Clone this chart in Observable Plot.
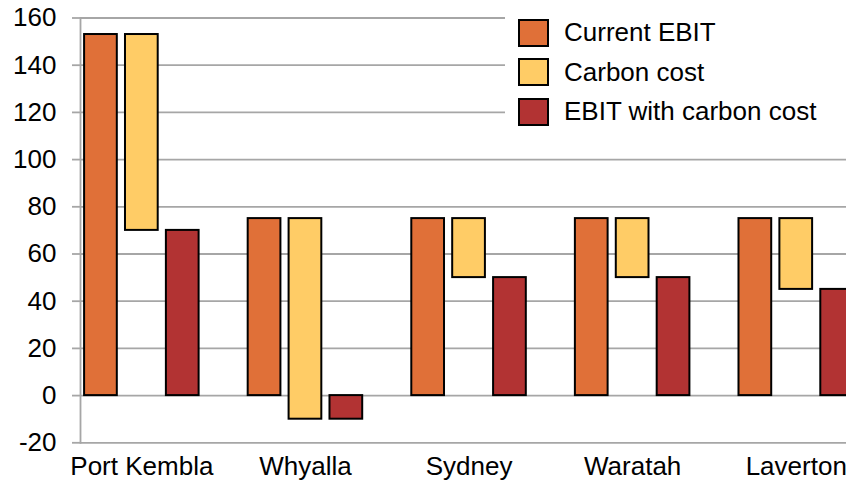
<!DOCTYPE html>
<html>
<head>
<meta charset="utf-8">
<script src="https://cdn.jsdelivr.net/npm/d3@7"></script>
<script src="https://cdn.jsdelivr.net/npm/@observablehq/plot@0.6"></script>
<style>
  html, body { margin: 0; padding: 0; background: #fff; overflow: hidden; }
  #wrap { position: relative; width: 846px; height: 481px; overflow: hidden; font-family: "Liberation Sans", Arial, sans-serif; }
  #chart svg { max-width: none !important; width: 898px; height: 481px; display: block; }
  #legend { position: absolute; left: 505px; top: 0; width: 400px; height: 132px; background: #fff; }
  .row { position: absolute; left: 13px; height: 28px; display: flex; align-items: center; }
  .sw { width: 27px; height: 24px; border: 2px solid #000; margin-right: 15px; }
  .lbl { font-size: 26px; color: #000; white-space: nowrap; }
</style>
</head>
<body>
<div id="wrap"><div id="chart"></div><div id="legend"></div></div>
<script>
const sites = ["Port Kembla", "Whyalla", "Sydney", "Waratah", "Laverton"];
const series = ["Current EBIT", "Carbon cost", "EBIT with carbon cost"];
const colors = ["#E07038", "#FFCC66", "#B23333"];
const currentEbit = [153, 75, 75, 75, 75];
const ebitWithCarbon = [70, -10, 50, 50, 45];
const yTicks = [-20, 0, 20, 40, 60, 80, 100, 120, 140, 160];

// Carbon cost bar spans from EBIT with carbon cost up to current EBIT
const rows = [];
sites.forEach((s, i) => {
  rows.push({site: s, series: series[0], y1: 0, y2: currentEbit[i]});
  rows.push({site: s, series: series[1], y1: ebitWithCarbon[i], y2: currentEbit[i]});
  rows.push({site: s, series: series[2], y1: 0, y2: ebitWithCarbon[i]});
});
const key = (s, k) => s + "|" + k;
const slots = ["0", "1", "2", "3"];
const domainX = sites.flatMap(s => slots.map(k => key(s, k)));
rows.forEach(r => r.key = key(r.site, String(series.indexOf(r.series))));

const chart = Plot.plot({
  width: 898,
  height: 481,
  marginLeft: 80,
  marginRight: 0,
  marginTop: 17.5,
  marginBottom: 38.7,
  style: {fontFamily: "'Liberation Sans', Arial, sans-serif", fontSize: "26px", color: "#000", background: "#fff", maxWidth: "none"},
  x: {type: "band", domain: domainX, paddingInner: 0.2, paddingOuter: 0.1, round: false},
  y: {domain: [-20, 160]},
  color: {domain: series, range: colors},
  marks: [
    Plot.gridY(yTicks, {stroke: "#a6a6a6", strokeOpacity: 1, strokeWidth: 1.8}),
    Plot.frame({anchor: "left", stroke: "#a6a6a6", strokeWidth: 1.8}),
    Plot.axisY(yTicks, {tickSize: 8, tickPadding: 16, stroke: "#a6a6a6", strokeWidth: 1.8, fill: "#000", fontSize: 26, label: null, tickFormat: d => String(d)}),
    Plot.axisX(sites.map(s => key(s, "1")), {tickSize: 0, tickPadding: 14, tickFormat: d => d.split("|")[0], fill: "#000", fontSize: 26, label: null}),
    Plot.barY(rows, {x: "key", y1: "y1", y2: "y2", fill: "series", stroke: "#000", strokeWidth: 2})
  ]
});
document.getElementById("chart").appendChild(chart);

const legend = document.getElementById("legend");
series.forEach((s, i) => {
  const row = document.createElement("div");
  row.className = "row";
  row.style.top = (18.5 + i * 39.5) + "px";
  row.innerHTML = `<div class="sw" style="background:${colors[i]}"></div><div class="lbl">${s}</div>`;
  legend.appendChild(row);
});
</script>
</body>
</html>
